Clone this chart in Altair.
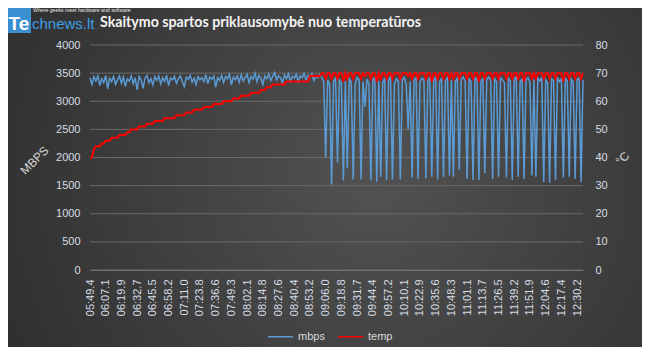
import altair as alt
import pandas as pd

# ---------------- data ----------------
x_labels = ["05:49.4", "06:07.1", "06:19.9", "06:32.7", "06:45.5", "06:58.2", "07:11.0", "07:23.8",
            "07:36.6", "07:49.3", "08:02.1", "08:14.8", "08:27.6", "08:40.4", "08:53.2", "09:06.0",
            "09:18.8", "09:31.7", "09:44.4", "09:57.2", "10:10.1", "10:22.9", "10:35.6", "10:48.3",
            "11:01.1", "11:13.7", "11:26.5", "11:39.2", "11:51.9", "12:04.6", "12:17.4", "12:30.2"]
label_step = 8  # samples between labelled categories

mbps = [
    3420, 3300, 3440, 3360, 3450, 3280, 3400, 3330, 3460, 3220, 3410, 3350, 3440, 3300, 3380, 3450, 3320, 3430, 3260, 3400,
    3360, 3450, 3310, 3420, 3200, 3440, 3380, 3230, 3410, 3460, 3330, 3400, 3290, 3440, 3370, 3450, 3310, 3420, 3350, 3460,
    3280, 3410, 3380, 3440, 3320, 3400, 3450, 3350, 3260, 3430, 3390, 3460, 3340, 3410, 3300, 3440, 3380, 3420, 3350, 3470,
    3310, 3430, 3390, 3450, 3250, 3420, 3370, 3460, 3330, 3440, 3400, 3480, 3290, 3430, 3380, 3450, 3340, 3470, 3360, 3420,
    3480, 3330, 3440, 3390, 3500, 3350, 3460, 3410, 3300, 3450, 3400, 3480, 3370, 3440, 3510, 3380, 3450, 3420, 3330, 3470,
    3400, 3490, 3360, 3440, 3410, 3480, 3350, 3450, 3420, 3500, 3380, 3460, 3430, 3490, 3370, 3450, 3420, 3480,
    3420, 3350, 2000, 3380, 3300, 1520, 3350, 3420, 1910, 3380, 3330, 1590, 3360, 1810, 3400, 3340, 1610, 3300, 3420, 3380,
    1610, 3350, 2900, 3390, 3310, 1590, 3380, 3420, 1570, 3360, 1660, 3330, 3410, 1600, 3370, 3430, 1610, 3300, 3400, 3360,
    1610, 3390, 3420, 3300, 2500, 3350, 1640, 3380, 3420, 1620, 3340, 3410, 3380, 1630, 3360, 3420, 1660, 3380, 3430, 1610,
    3350, 3400, 1650, 3370, 3420, 1680, 3380, 1660, 3350, 3410, 1780, 3390, 3430, 3360, 1620, 3400, 3350, 1600, 3420, 3380,
    1600, 3340, 3410, 1720, 3390, 3430, 3370, 1620, 3400, 3350, 1660, 3420, 3380, 3330, 1640, 3410, 3360, 1600, 3390, 3430,
    1660, 3350, 3400, 1620, 3380, 3420, 3340, 1680, 3390, 1660, 3410, 3360, 3420, 1560, 3380, 3330, 1550, 3400, 3370, 1600,
    3420, 3350, 3390, 1640, 3410, 3360, 1660, 3400, 3340, 1620, 3390, 3420, 1560, 3380,
]

temp = [
    40, 40, 43, 44, 44, 44, 45, 45, 46, 46, 46, 47, 47, 47, 47, 48, 48, 48, 48, 49,
    49, 50, 50, 50, 50, 51, 51, 51, 51, 52, 52, 52, 52, 53, 53, 53, 53, 53, 54, 54,
    54, 54, 54, 54, 55, 55, 55, 55, 55, 56, 56, 56, 56, 57, 57, 57, 57, 57, 58, 58,
    58, 58, 58, 59, 59, 59, 59, 59, 60, 60, 60, 60, 60, 61, 61, 61, 61, 62, 62, 62,
    62, 62, 63, 63, 63, 63, 63, 64, 64, 64, 65, 65, 65, 66, 66, 66, 66, 66, 66, 66,
    67, 67, 67, 67, 67, 67, 67, 67, 67, 67, 67, 67, 69, 69, 69, 69, 69, 69,
    70, 70, 68, 70, 70, 68, 70, 70, 68, 70, 70, 67, 70, 68, 70, 70, 68, 70, 70, 70,
    68, 70, 69, 70, 70, 68, 70, 70, 67, 70, 68, 70, 70, 68, 70, 70, 68, 70, 70, 70,
    68, 70, 70, 70, 69, 70, 68, 70, 70, 68, 70, 70, 70, 68, 70, 70, 67, 70, 70, 68,
    70, 70, 68, 70, 70, 68, 70, 68, 70, 70, 68, 70, 70, 70, 68, 70, 70, 68, 70, 70,
    67, 70, 70, 68, 70, 70, 70, 68, 70, 70, 68, 70, 70, 70, 68, 70, 70, 68, 70, 70,
    68, 70, 70, 67, 70, 70, 70, 68, 70, 68, 70, 70, 70, 68, 70, 70, 68, 70, 70, 68,
    70, 70, 70, 67, 70, 70, 68, 70, 70, 68, 70, 70, 68, 70,
]

left_ticks = [0, 500, 1000, 1500, 2000, 2500, 3000, 3500, 4000]
right_ticks = [0, 10, 20, 30, 40, 50, 60, 70, 80]
series_names = ["mbps", "temp"]
series_colors = ["#5b9bd5", "#ff0000"]

title_text = "Skaitymo spartos priklausomybė  nuo temperatūros"
logo_big = "Te"
logo_rest = "chnews.lt"
logo_tag = "Where geeks meet hardware and software"

# ---------------- layout ----------------
W, H = 493, 225
PL, PT = 82, 37
TOTAL_W, TOTAL_H = 634, 339
LABEL_COLOR = "#d6dde5"
FONT = "Liberation Sans"

n = len(mbps)
df = pd.DataFrame({"idx": list(range(n)), "mbps": mbps, "temp": temp})
tick_idx = [i * label_step for i in range(len(x_labels))]
label_js = "[" + ",".join("'" + s + "'" for s in x_labels) + "]"

x_enc = alt.X(
    "idx:Q",
    scale=alt.Scale(domain=[0, n - 1], nice=False, zero=False),
    axis=alt.Axis(
        values=tick_idx,
        labelExpr=label_js + "[round(datum.value / " + str(label_step) + ")]",
        labelAngle=270, labelAlign="right", labelBaseline="middle",
        labelPadding=9, labelFlush=False, labelOverlap=False,
        ticks=False, grid=False, domain=True, domainColor="#707070",
        labelColor=LABEL_COLOR, labelFont=FONT, labelFontSize=11, title=None, zindex=1,
    ),
)

color_scale = alt.Scale(domain=series_names, range=series_colors)

one = alt.Data(values=[{"k": 1}])

bg = alt.Chart(one).mark_rect(
    fill=alt.Gradient(
        gradient="radial",
        stops=[alt.GradientStop(color="#525252", offset=0),
               alt.GradientStop(color="#2b2b2b", offset=1)],
        x1=0.58, y1=0.5, x2=0.58, y2=0.5, r1=0, r2=0.72,
    )
).encode(x=alt.value(-PL), x2=alt.value(TOTAL_W - PL), y=alt.value(-PT), y2=alt.value(TOTAL_H - PT))

grid = alt.Chart(pd.DataFrame({"v": left_ticks})).mark_rule(color="#6a6a6a", strokeWidth=1).encode(
    y=alt.Y("v:Q", scale=alt.Scale(domain=[0, 4000]), axis=None)
)

line_m = alt.Chart(df).transform_calculate(series="'mbps'").mark_line(strokeWidth=1.5).encode(
    x=x_enc,
    y=alt.Y("mbps:Q", scale=alt.Scale(domain=[0, 4000], nice=False),
            axis=alt.Axis(orient="left", values=left_ticks, format="d", grid=False, ticks=False, domain=False,
                          labelColor=LABEL_COLOR, labelFont=FONT, labelFontSize=11, labelPadding=10,
                          title="MBPS", titleAngle=315, titleX=-56, titleY=115, titleAlign="center",
                          titleBaseline="middle", titleColor="#d9d9d9", titleFont=FONT,
                          titleFontSize=12, titleFontWeight="normal", zindex=1)),
    color=alt.Color("series:N", scale=color_scale,
                    legend=alt.Legend(orient="none", legendX=177, legendY=278, direction="horizontal",
                                      title=None, symbolType="stroke", symbolSize=625,
                                      symbolStrokeWidth=1.5, labelColor="#d9d9d9", labelFont=FONT,
                                      labelFontSize=11, columnPadding=10, labelOffset=4, padding=0)),
)

line_t = alt.Chart(df).transform_calculate(series="'temp'").mark_line(strokeWidth=2).encode(
    x=x_enc,
    y=alt.Y("temp:Q", scale=alt.Scale(domain=[0, 80], nice=False),
            axis=alt.Axis(orient="right", values=right_ticks, format="d", grid=False, ticks=False, domain=False,
                          labelColor=LABEL_COLOR, labelFont=FONT, labelFontSize=11, labelPadding=12,
                          title="°C", titleAngle=315, titleX=39, titleY=113, titleAlign="center",
                          titleBaseline="middle", titleColor="#d9d9d9", titleFont=FONT,
                          titleFontSize=12, titleFontWeight="normal", zindex=1)),
    color=alt.Color("series:N", scale=color_scale),
)

title = alt.Chart(alt.Data(values=[{"t": title_text}])).mark_text(
    align="left", baseline="middle", font="Lato", fontSize=14.2, fontWeight="bold", color="#f3f3f3"
).encode(text="t:N", x=alt.value(10), y=alt.value(-22.5))

logo_box = alt.Chart(one).mark_rect(fill="#3a8fd0").encode(
    x=alt.value(-PL), x2=alt.value(-PL + 23), y=alt.value(-PT), y2=alt.value(-PT + 25)
)
logo_te = alt.Chart(alt.Data(values=[{"t": logo_big}])).mark_text(
    align="left", baseline="alphabetic", font=FONT, fontSize=19, fontWeight="bold", color="#ffffff"
).encode(text="t:N", x=alt.value(-PL + 0.5), y=alt.value(-PT + 22))
logo_ch = alt.Chart(alt.Data(values=[{"t": logo_rest}])).mark_text(
    align="left", baseline="alphabetic", font=FONT, fontSize=15, color="#3c9fe6"
).encode(text="t:N", x=alt.value(-PL + 24), y=alt.value(-PT + 21))
logo_tg = alt.Chart(alt.Data(values=[{"t": logo_tag}])).mark_text(
    align="left", baseline="top", font=FONT, fontSize=5.2, color="#e8e8e8"
).encode(text="t:N", x=alt.value(-PL + 25), y=alt.value(-PT + 0.3))

chart = alt.layer(bg, grid, line_m, line_t, title, logo_box, logo_te, logo_ch, logo_tg).resolve_scale(
    y="independent"
).properties(
    width=W, height=H,
    autosize=alt.AutoSizeParams(type="none"),
    padding={"left": PL, "top": PT, "right": TOTAL_W - PL - W, "bottom": TOTAL_H - PT - H},
    background="#3a3a3a",
).configure_view(stroke=None)

chart.save("out.html", embed_options={"renderer": "svg", "actions": False})
